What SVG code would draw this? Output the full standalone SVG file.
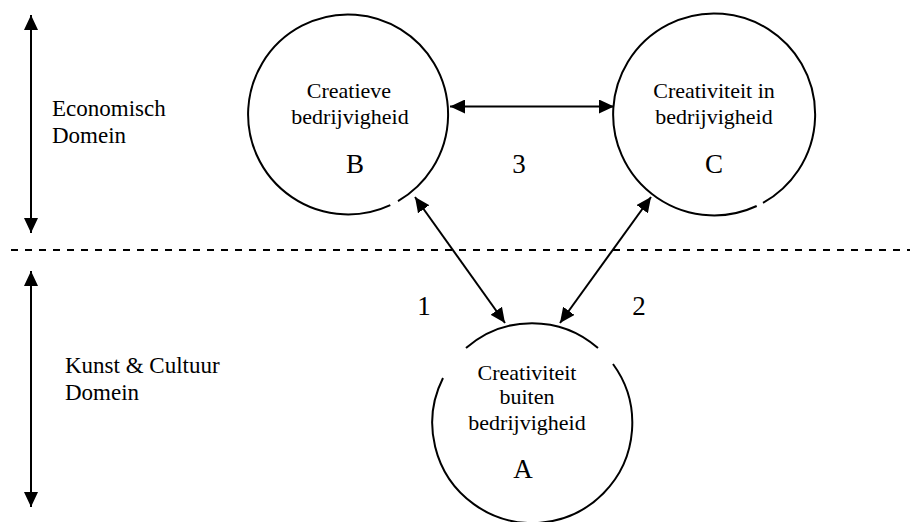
<svg xmlns="http://www.w3.org/2000/svg" width="915" height="522" viewBox="0 0 915 522">
  <style>
    .t { font-family: "Liberation Serif", "Times New Roman", serif; fill: #000; }
    .lbl { font-size: 23px; }
    .in { font-size: 22px; text-anchor: middle; }
    .big { font-size: 27px; text-anchor: middle; }
    .ring { fill: none; stroke: #000; stroke-width: 2; }
    .arr { fill: none; stroke: #000; stroke-width: 2; marker-start: url(#ah); marker-end: url(#ah); }
  </style>
  <defs>
    <marker id="ah" viewBox="0 0 15 14" refX="15" refY="7" markerWidth="15" markerHeight="14" markerUnits="userSpaceOnUse" orient="auto-start-reverse">
      <path d="M0,0 L15,7 L0,14 z" fill="#000"/>
    </marker>
  </defs>
  <rect width="915" height="522" fill="#fff"/>

  <g id="domain-divider">
    <line x1="11" y1="250" x2="910" y2="250" stroke="#000" stroke-width="2" stroke-dasharray="7 7"/>
  </g>

  <g id="economisch-domein">
    <text class="t lbl" x="52" y="116">Economisch</text>
    <text class="t lbl" x="52" y="143">Domein</text>
  </g>

  <g id="kunst-cultuur-domein">
    <text class="t lbl" x="65" y="373">Kunst &amp; Cultuur</text>
    <text class="t lbl" x="65" y="400">Domein</text>
  </g>

  <g id="node-B">
    <path class="ring" d="M390.3,205.1 A100,100 0 1 1 398,201.1"/>
    <text class="t in" x="349" y="98">Creatieve</text>
    <text class="t in" x="350" y="124">bedrijvigheid</text>
    <text class="t big" x="355" y="173">B</text>
  </g>

  <g id="node-C">
    <path class="ring" d="M756.7,206 A101,101 0 1 1 763,202.8"/>
    <text class="t in" x="714" y="98">Creativiteit in</text>
    <text class="t in" x="714" y="124">bedrijvigheid</text>
    <text class="t big" x="714" y="173">C</text>
  </g>

  <g id="node-A">
    <path class="ring" d="M466,348 A100,100 0 0 1 598,348"/>
    <path class="ring" d="M613,364 A100,100 0 1 1 443,378"/>
    <text class="t in" x="527" y="380">Creativiteit</text>
    <text class="t in" x="527" y="404">buiten</text>
    <text class="t in" x="527" y="430">bedrijvigheid</text>
    <text class="t big" x="523" y="478">A</text>
  </g>

  <g id="connectors">
    <line class="arr" x1="31" y1="15" x2="31" y2="233"/>
    <line class="arr" x1="31" y1="271" x2="31" y2="507"/>
    <line class="arr" x1="450" y1="106.5" x2="614" y2="106.5"/>
    <line class="arr" x1="415" y1="197" x2="505" y2="323"/>
    <line class="arr" x1="651" y1="197" x2="560" y2="323"/>
  </g>

  <g id="connector-labels">
    <text class="t big" x="424" y="315">1</text>
    <text class="t big" x="639" y="315">2</text>
    <text class="t big" x="519" y="173">3</text>
  </g>
</svg>
